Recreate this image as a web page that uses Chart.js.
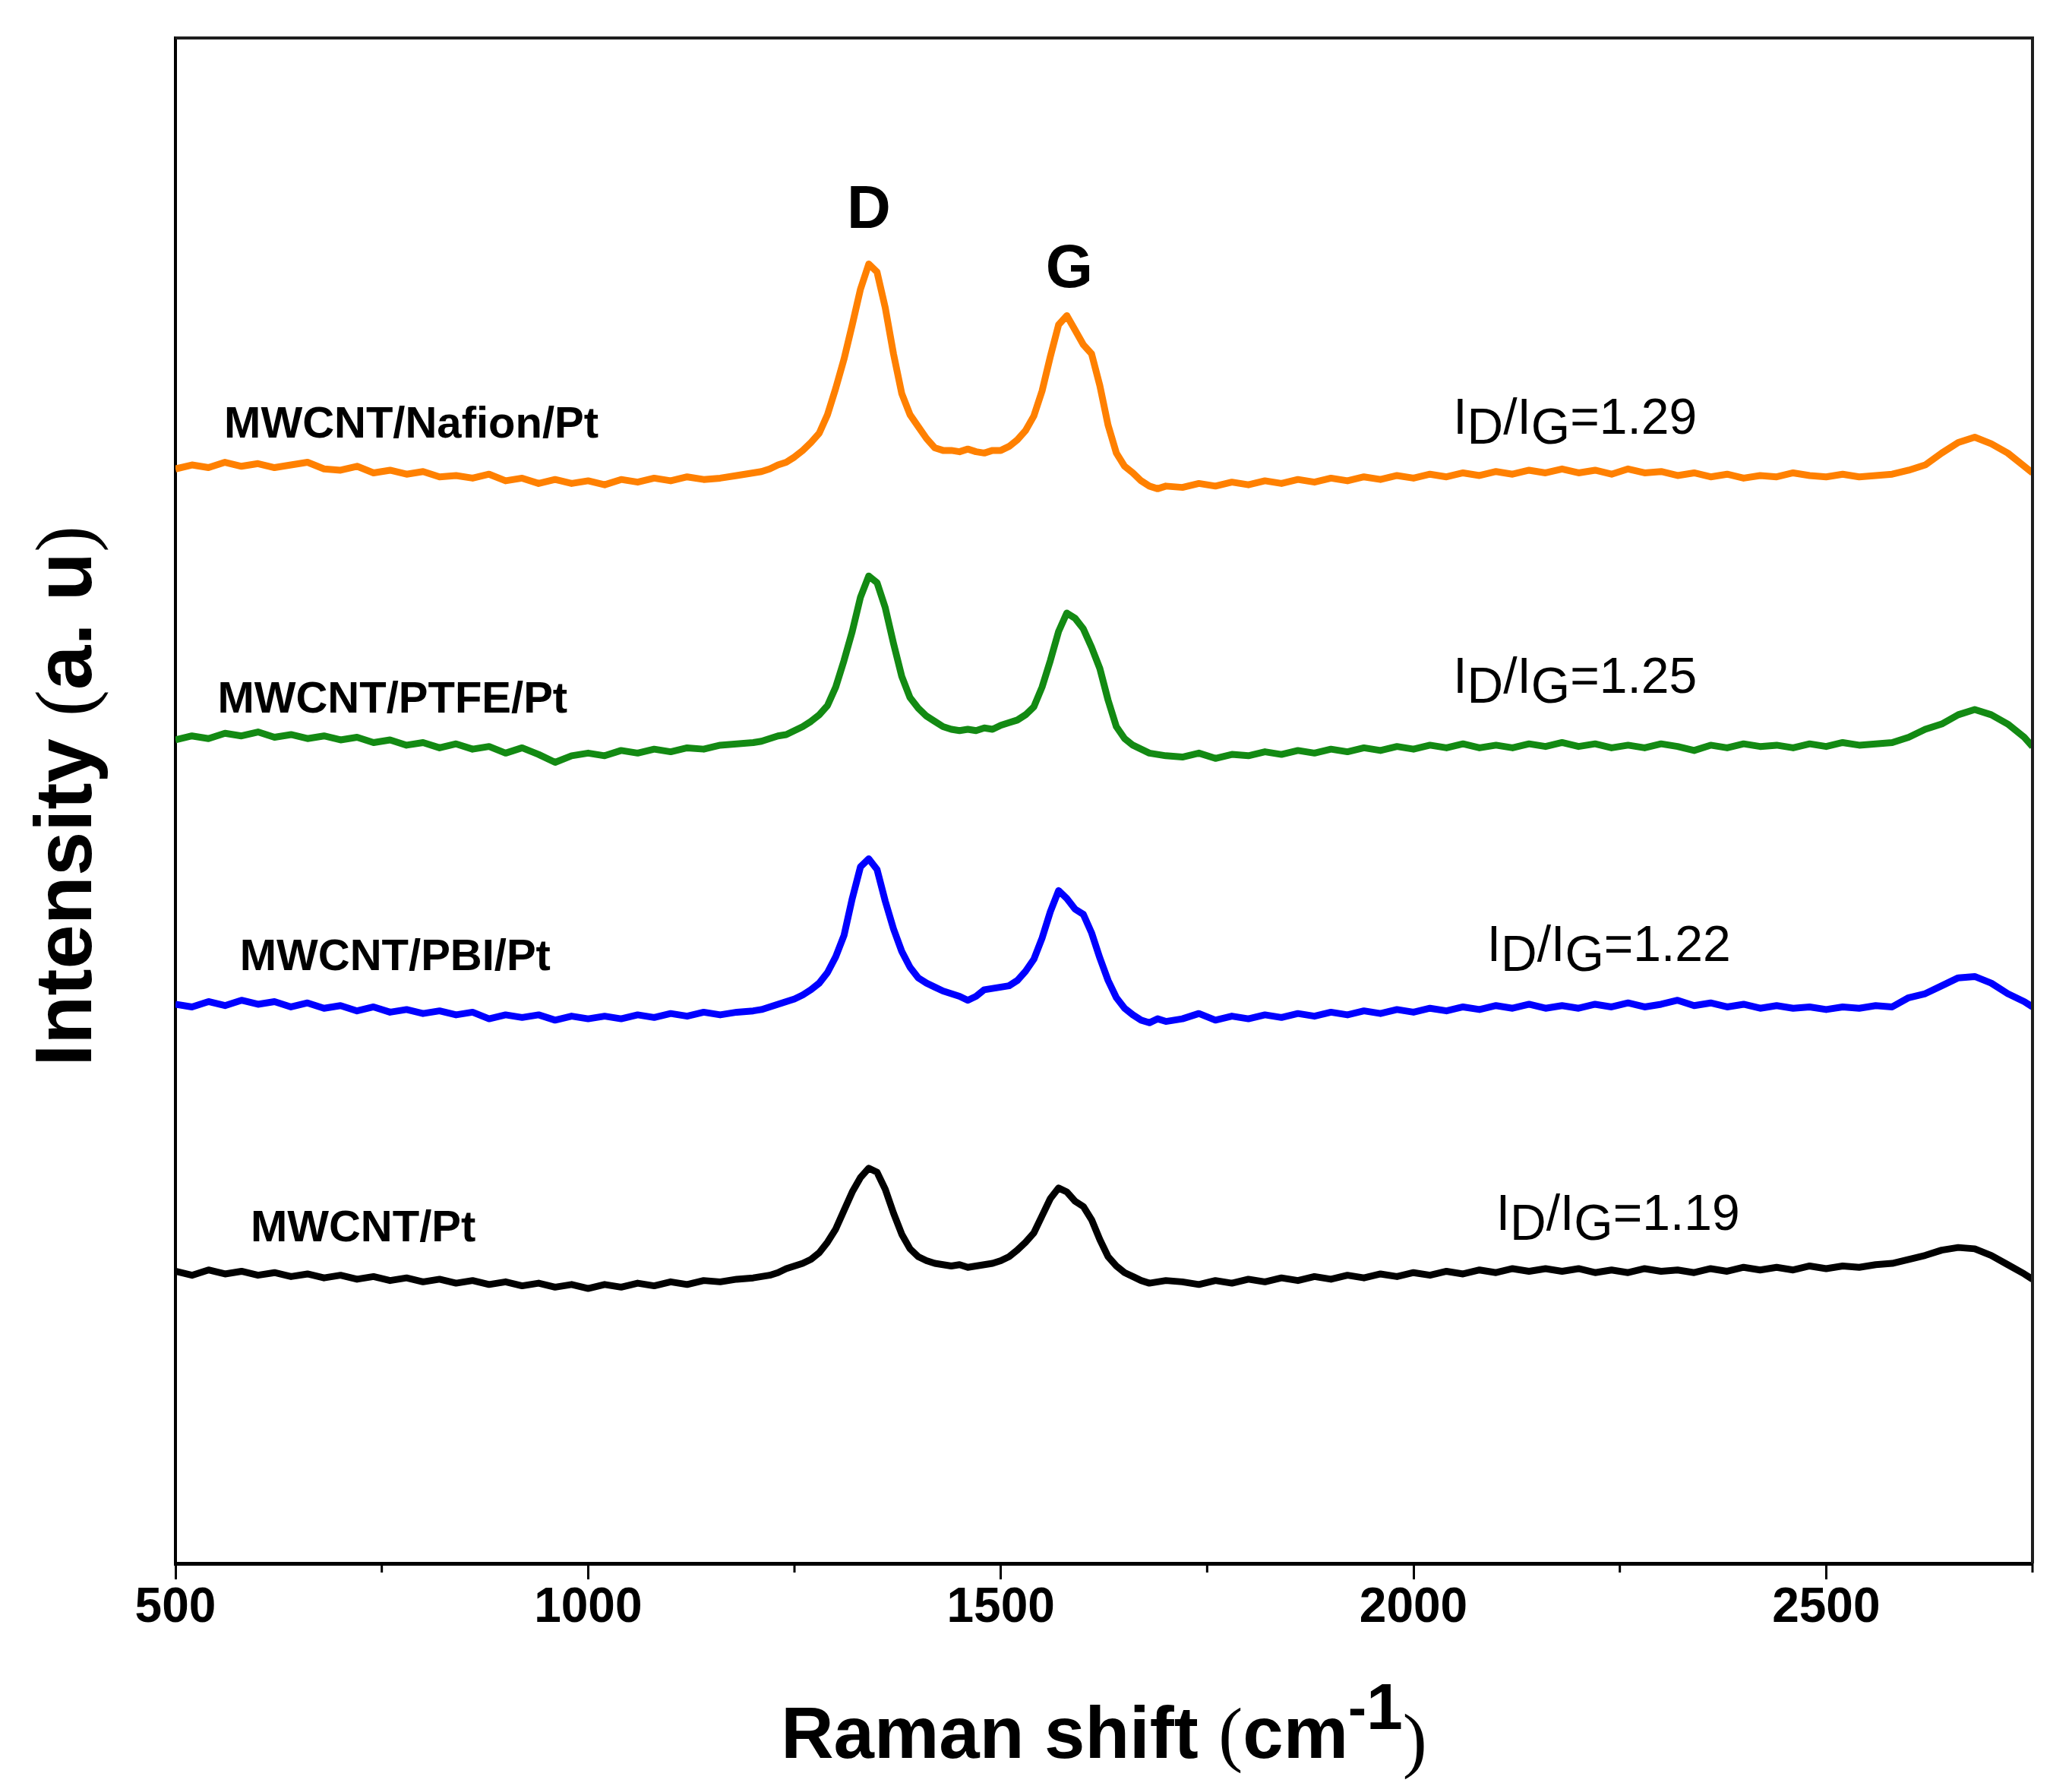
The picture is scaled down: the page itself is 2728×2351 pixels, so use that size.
<!DOCTYPE html>
<html>
<head>
<meta charset="utf-8">
<script src="https://cdn.jsdelivr.net/npm/chart.js@4.4.1/dist/chart.umd.min.js"></script>
<style>
  html, body { margin: 0; padding: 0; background: #fff; }
  #wrap { width: 2728px; height: 2351px; }
</style>
</head>
<body>
<div id="wrap"><canvas id="raman" width="2728" height="2351"></canvas></div>
<script>
// Raman shift (cm-1), sampling points
const ramanShift = [
  500, 520, 540, 560, 580, 600, 620, 640, 660, 680, 700, 720, 740, 760, 780, 800, 820, 840, 860, 880,
  900, 920, 940, 960, 980, 1000, 1020, 1040, 1060, 1080, 1100, 1120, 1140, 1160, 1180,
  1200, 1210, 1220, 1230, 1240, 1250, 1260, 1270, 1280, 1290, 1300, 1310, 1320, 1330, 1340, 1350,
  1360, 1370, 1380, 1390, 1400, 1410, 1420, 1430, 1440, 1450, 1460, 1470, 1480, 1490, 1500, 1510,
  1520, 1530, 1540, 1550, 1560, 1570, 1580, 1590, 1600, 1610, 1620, 1630, 1640, 1650, 1660, 1670,
  1680, 1690, 1700,
  1720, 1740, 1760, 1780, 1800, 1820, 1840, 1860, 1880, 1900, 1920, 1940, 1960, 1980, 2000, 2020,
  2040, 2060, 2080, 2100, 2120, 2140, 2160, 2180, 2200, 2220, 2240, 2260, 2280, 2300, 2320, 2340,
  2360, 2380, 2400, 2420, 2440, 2460, 2480, 2500, 2520, 2540, 2560, 2580, 2600, 2620, 2640, 2660,
  2680, 2700, 2720, 2740, 2750
];

// intensities (a. u), stacked traces
const nafionPt = [
  828, 831, 829, 833, 830, 832, 829, 831, 833, 828, 827, 830, 825, 827, 824, 826, 822, 823, 821, 824,
  819, 821, 817, 820, 817, 819, 816, 820, 818, 821, 819, 822, 820, 821, 823,
  825, 826, 828, 831, 833, 837, 842, 848, 855, 869, 889, 911, 937, 964, 983, 977,
  950, 915, 885, 869, 860, 851, 844, 842, 842, 841, 843, 841, 840, 842, 842, 845,
  850, 857, 868, 887, 913, 937, 944, 933, 922, 915, 891, 861, 840, 830, 825, 819,
  815, 813, 815,
  814, 817, 815, 818, 816, 819, 817, 820, 818, 821, 819, 822, 820, 823, 821, 824,
  822, 825, 823, 826, 824, 827, 825, 828, 825, 827, 824, 828, 825, 826, 823, 825,
  822, 824, 821, 823, 822, 825, 823, 822, 824, 822, 823, 824, 827, 831, 840, 848,
  852, 847, 840, 830, 825
];
const ptfePt = [
  623, 626, 624, 628, 626, 629, 625, 627, 624, 626, 623, 625, 621, 623, 619, 621, 617, 620, 616, 618,
  613, 617, 612, 606, 611, 613, 611, 615, 613, 616, 614, 617, 616, 619, 620,
  621, 622, 624, 626, 627, 630, 633, 637, 642, 649, 663, 683, 705, 731, 747, 742,
  723, 696, 671, 655, 647, 641, 637, 633, 631, 630, 631, 630, 632, 631, 634, 636,
  638, 642, 648, 663, 683, 705, 719, 715, 707, 693, 677, 653, 633, 624, 619, 616,
  613, 612, 611,
  610, 613, 609, 612, 611, 614, 612, 615, 613, 616, 614, 617, 615, 618, 616, 619,
  617, 620, 617, 619, 617, 620, 618, 621, 618, 620, 617, 619, 617, 620, 618, 615,
  619, 617, 620, 618, 619, 617, 620, 618, 621, 619, 620, 621, 625, 631, 635, 642,
  646, 642, 635, 625, 618
];
const pbiPt = [
  423, 421, 425, 422, 426, 423, 425, 421, 424, 420, 422, 418, 421, 417, 419, 416, 418, 415, 417, 412,
  415, 413, 415, 411, 414, 412, 414, 412, 415, 413, 416, 414, 417, 415, 417,
  418, 419, 421, 423, 425, 427, 430, 434, 439, 447, 459, 475, 503, 527, 533, 525,
  501, 480, 463, 451, 443, 439, 436, 433, 431, 429, 426, 429, 434, 435, 436, 437,
  441, 448, 457, 473, 493, 509, 503, 495, 491, 477, 458, 441, 428, 420, 415, 411,
  409, 412, 410,
  412, 416, 411, 414, 412, 415, 413, 416, 414, 417, 415, 418, 416, 419, 417, 420,
  418, 421, 419, 422, 420, 423, 420, 422, 420, 423, 421, 424, 421, 423, 426, 422,
  424, 421, 423, 420, 422, 420, 421, 419, 421, 420, 422, 421, 428, 431, 437, 443,
  444, 439, 431, 425, 421
];
const mwcntPt = [
  221, 218, 222, 219, 221, 218, 220, 217, 219, 216, 218, 215, 217, 214, 216, 213, 215, 212, 214, 211,
  213, 210, 212, 209, 211, 208, 211, 209, 212, 210, 213, 211, 214, 213, 215,
  216, 217, 218, 220, 223, 225, 227, 230, 235, 243, 253, 267, 281, 292, 299, 296,
  283, 265, 249, 238, 232, 229, 227, 226, 225, 226, 224, 225, 226, 227, 229, 232,
  237, 243, 250, 263, 276, 284, 281, 274, 270, 260, 245, 232, 225, 220, 217, 214,
  212, 213, 214,
  213, 211, 214, 212, 215, 213, 216, 214, 217, 215, 218, 216, 219, 217, 220, 218,
  221, 219, 222, 220, 223, 221, 223, 221, 223, 220, 222, 220, 223, 221, 222, 220,
  223, 221, 224, 222, 224, 222, 225, 223, 225, 224, 226, 227, 230, 233, 237, 239,
  238, 233, 226, 219, 215
];

const seriesNames = ['MWCNT/Nafion/Pt', 'MWCNT/PTFE/Pt', 'MWCNT/PBI/Pt', 'MWCNT/Pt'];
const ratioValues = ['1.29', '1.25', '1.22', '1.19'];
const peakNames = ['D', 'G'];
const majorTicks = [500, 1000, 1500, 2000, 2500];

const SANS = '"Liberation Sans", Arial, sans-serif';
const SERIF = '"Liberation Serif", "Times New Roman", serif';

// draw a row of text runs, each with its own font and vertical shift
function drawRuns(c, runs, x, y, centered) {
    let w = 0;
    runs.forEach(r => { c.font = r.font; w += c.measureText(r.text).width; });
    let px = centered ? x - w / 2 : x;
    runs.forEach(r => {
        c.font = r.font;
        c.fillText(r.text, px, y + (r.dy || 0));
        px += c.measureText(r.text).width;
    });
}

const annotate = {
    id: 'annotate',
    beforeDraw(chart) {
        const c = chart.ctx;
        c.save();
        c.fillStyle = '#fff';
        c.fillRect(0, 0, chart.width, chart.height);
        c.restore();
    },
    afterDraw(chart) {
        const c = chart.ctx;
        const a = chart.chartArea;
        const xs = chart.scales.x;
        const ys = chart.scales.y;
        c.save();

        // box: top and right sides
        c.strokeStyle = '#1e1e1e';
        c.lineWidth = 4;
        c.beginPath();
        c.moveTo(a.left, a.top);
        c.lineTo(a.right, a.top);
        c.lineTo(a.right, a.bottom);
        c.stroke();

        // minor ticks
        c.strokeStyle = '#000';
        c.lineWidth = 3;
        xs.ticks.forEach(t => {
            if (majorTicks.includes(t.value)) return;
            const px = xs.getPixelForValue(t.value);
            c.beginPath();
            c.moveTo(px, a.bottom);
            c.lineTo(px, a.bottom + 12);
            c.stroke();
        });

        c.fillStyle = '#000';

        // sample names
        const nameAt = [[559, 861], [551, 653], [578, 458], [591, 253]];
        c.textAlign = 'left';
        c.textBaseline = 'middle';
        c.font = 'bold 58px ' + SANS;
        seriesNames.forEach((n, i) => {
            c.fillText(n, xs.getPixelForValue(nameAt[i][0]), ys.getPixelForValue(nameAt[i][1]));
        });

        // ID/IG ratios
        const ratioAt = [[2048, 865], [2048, 669], [2089, 466], [2100, 263]];
        const f = '66px ' + SANS;
        ratioValues.forEach((v, i) => {
            drawRuns(c, [
                { text: 'I', font: f },
                { text: 'D', font: f, dy: 13 },
                { text: '/', font: f },
                { text: 'I', font: f },
                { text: 'G', font: f, dy: 13 },
                { text: '=' + v, font: f }
            ], xs.getPixelForValue(ratioAt[i][0]), ys.getPixelForValue(ratioAt[i][1]), false);
        });

        // peak letters
        const peakAt = [[1340, 1023], [1583, 978]];
        c.textAlign = 'center';
        c.font = 'bold 80px ' + SANS;
        peakNames.forEach((p, i) => {
            c.fillText(p, xs.getPixelForValue(peakAt[i][0]), ys.getPixelForValue(peakAt[i][1]));
        });

        // x axis title
        c.textAlign = 'left';
        c.textBaseline = 'alphabetic';
        drawRuns(c, [
            { text: 'Raman shift ', font: 'bold 96px ' + SANS },
            { text: '(', font: '96px ' + SERIF },
            { text: 'cm', font: 'bold 96px ' + SANS },
            { text: '-', font: 'bold 72px ' + SANS, dy: -42 },
            { text: '1', font: 'bold 86px ' + SANS, dy: -38 },
            { text: ')', font: '96px ' + SERIF, dy: 8 }
        ], (a.left + a.right) / 2, a.bottom + 256, true);

        // y axis title
        c.translate(120, (a.top + a.bottom) / 2 - 6);
        c.rotate(-Math.PI / 2);
        drawRuns(c, [
            { text: 'Intensity ', font: 'bold 105px ' + SANS },
            { text: '(', font: '105px ' + SERIF },
            { text: 'a. u', font: 'bold 105px ' + SANS },
            { text: ')', font: '105px ' + SERIF }
        ], 0, 0, true);

        c.restore();
    }
};

const traces = [
    { label: seriesNames[0], values: nafionPt, color: '#FF8000' },
    { label: seriesNames[1], values: ptfePt, color: '#138A13' },
    { label: seriesNames[2], values: pbiPt, color: '#0000FF' },
    { label: seriesNames[3], values: mwcntPt, color: '#000000' }
];

new Chart(document.getElementById('raman'), {
    type: 'line',
    data: {
        datasets: traces.map(t => ({
            label: t.label,
            data: ramanShift.map((x, i) => ({ x, y: t.values[i] })),
            borderColor: t.color,
            borderWidth: 9,
            borderJoinStyle: 'round',
            pointRadius: 0,
            tension: 0,
            fill: false
        }))
    },
    options: {
        responsive: false,
        animation: false,
        devicePixelRatio: 1,
        layout: { padding: { top: 50, right: 52, left: 0, bottom: 0 } },
        plugins: {
            legend: { display: false },
            tooltip: { enabled: false }
        },
        scales: {
            x: {
                type: 'linear',
                min: 500,
                max: 2750,
                afterFit: s => { s.height = 293; },
                border: { color: '#000', width: 5 },
                grid: {
                    drawOnChartArea: false,
                    drawTicks: true,
                    tickLength: 21,
                    tickWidth: 3,
                    tickColor: ctx => (ctx.tick && majorTicks.includes(ctx.tick.value)) ? '#000' : 'rgba(0,0,0,0)'
                },
                ticks: {
                    stepSize: 250,
                    autoSkip: false,
                    maxRotation: 0,
                    padding: 0,
                    color: '#000',
                    font: { family: SANS, size: 64, weight: 'bold' },
                    callback: v => majorTicks.includes(v) ? String(v) : ''
                }
            },
            y: {
                min: 0,
                max: 1154,
                afterFit: s => { s.width = 231; },
                border: { color: '#000', width: 4 },
                grid: { drawOnChartArea: false, drawTicks: false },
                ticks: { display: false }
            }
        }
    },
    plugins: [annotate]
});
</script>
</body>
</html>
